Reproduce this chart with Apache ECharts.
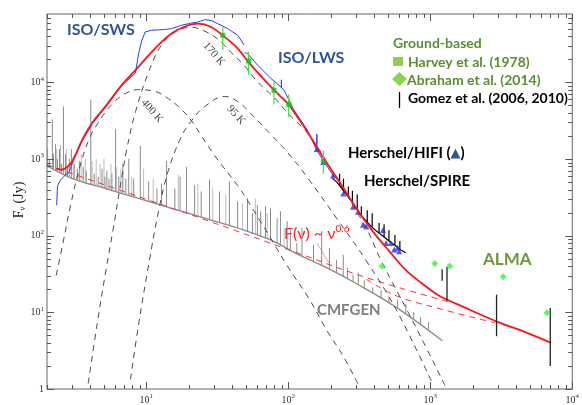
<!DOCTYPE html>
<html>
<head>
<meta charset="utf-8">
<script src="https://cdn.jsdelivr.net/npm/echarts@6/dist/echarts.min.js"></script>
<style>
html, body { margin: 0; padding: 0; background: #fff; }
#chart { width: 582px; height: 405px; }
</style>
</head>
<body>
<div id="chart"></div>
<script>
// wavelength (micron) / flux density (Jy)
var xLabelTicks = [10, 100, 1000, 10000];
var yLabelTicks = [1, 10, 100, 1000, 10000];

var modelTotal = [[2.32,748],[2.53,726],[2.79,793],[3.03,950],[3.56,1820],[4.18,2990],[5.18,4900],
  [6.76,9340],[8.84,16070],[11.55,27800],[15.07,43400],[19.7,55600],[23.1,58400],[28.6,52800],
  [35.6,39200],[44.0,27800],[54.5,16900],[75.0,8880],[86.3,6840],[100.7,5150],[115,3610],
  [135,2345],[177.7,1021],[230,500],[301,228],[394,114],[514,62.9],[673,35.5],[879,23.6],
  [1148,16.6],[1762,11.5],[3006,7.47],[4613,5.55],[7080,4.0]];

var isoSws = [[2.34,250],[2.37,440],[2.45,510],[2.62,590],[2.87,684],[3.05,940],[3.56,1750],
  [4.18,2900],[5.18,4800],[6.76,9200],[8.38,13200],[8.84,23900],[9.31,35500],[9.84,45500],
  [10.9,47900],[13.5,48900],[15.07,50300],[17.7,55600],[20.8,59500],[23.1,61200],[25.8,65800],
  [28.6,64400],[31.9,58400],[37.5,50300],[44.0,41200],[49.0,30700]];

var isoLws = [[49.5,24500],[51.6,23900],[60.6,16900],[75.0,11400],[89.5,8600],[89.5,10800],
  [89.5,8500],[93.1,8050],[109,4440],[135,2450],[159,1300],[159,2115],[159,1280],[176.6,957],[207,612]];

var spire = [[205,560],[219,503],[230,451],[230,644],[230,451],[245,385],[245,555],[245,385],
  [265,320],[265,438],[265,320],[283,272],[283,385],[283,272],[306,218],[306,345],[306,218],
  [327,182],[327,242],[327,182],[360,150],[360,214],[360,150],[390,128],[390,196],[390,128],
  [436,108],[436,146],[436,108],[473,96],[473,141],[473,96],[512,85.5],[512,118],[512,85.5],
  [564,75.2],[564,102],[564,75.2],[611,66],[611,85.5],[611,66],[673,59.8]];

var hifi = [[159,1355],[176.6,912],[207,612],[244,356],[286,239],[310,206],[336,139],[354,132],
  [465,119],[488,80.5],[528,80.5],[557,66],[589,69.4],[604,62.9]];

var harvey = [[34.6,41200],[52.5,19050],[79.3,7880],[100.7,5150],[176.6,920]];
var harveyErr = [[34.6,26400,52800],[52.5,12570,25100],[79.3,5150,10300],[100.7,3470,6940],[176.6,644,1288]];

var abraham = [[458,40.3],[1077,43.5],[1370,40.3],[3260,29.1],[6640,9.85]];
var gomez = [[1213,25.8,36.4],[1312,14.2,39.1],[2930,4.89,17.0],[7000,2.0,11.4]];

var cmfgenCont = [[1.98,825],[3.03,555],[5.18,412],[8.84,306],[15.07,228],[25.8,169],[44.0,126],
  [75.0,88],[115,58],[186,38.3],[301,23.8],[573,11.7],[1219,4.25]];

// [wavelength, continuum, line peak]
var cmfgenLines = [[2.02,810,1355],[2.08,800,1006],[2.18,748,3300],[2.22,740,1167],[2.30,720,1572],
  [2.37,700,1006],[2.45,680,1355],[2.53,660,867],[2.61,630,4855],[2.70,620,1167],[2.79,600,790],
  [2.87,590,1006],[2.97,570,1355],[3.11,545,867],[3.27,530,748],[3.38,523,940],[3.60,510,790],
  [3.78,495,705],[4.07,470,5980],[4.30,455,644],[4.58,445,589],[4.88,420,748],[5.12,412,589],
  [5.28,405,705],[5.46,400,555],[5.73,388,644],[6.08,377,2455],[6.41,365,589],[6.84,356,867],
  [7.18,345,555],[7.53,335,1006],[8.16,318,555],[9.08,300,1480],[10.4,280,510],[11.9,260,412],
  [12.8,248,479],[13.9,237,940],[15.9,220,412],[17.3,212,589],[19.2,200,790],[21.9,185,455],
  [24.4,173,377],[27.9,162,540],[32.8,148,377],[38.5,135,510],[44.0,126,280],[51.6,115,306],
  [56,107,196],[60.6,101,250],[64.0,98,208],[69.2,92,242],[75.0,88,228],[83.5,78,169],[88.1,74,208],
  [98.2,66,155],[103.5,63,118],[115,58,80],[125,54,126],[150.6,45.6,76],[172,40.5,115],
  [195,36.6,69.4],[219,33,48.5],[244,29.3,56.4],[261,27.2,38.3],[286,25,31],[311,22.7,33],
  [343,20.4,26],[394,17.6,21.2],[451,15.3,19.4],[512,13.1,15.7],[589,11.4,14.7],[673,9.8,12.8],
  [765,8.2,10.1],[855,7.0,8.67],[973,6.0,7.47]];

var cmfgenFaint = [[2.34,705,1355],[2.49,670,1530],[2.74,610,1355],[3.06,555,1085],[3.48,515,1167],
  [3.72,500,1006],[4.16,465,940],[4.44,450,1006],[4.73,430,867],[5.04,418,1006],[5.64,395,867],
  [6.19,370,790],[6.62,360,748],[7.91,330,589],[9.58,296,748],[11.2,268,555],[16.8,214,620],
  [23.1,180,479],[29.4,157,412],[36.3,140,345],[47.6,120,264],[58.7,104,306],[71.2,90,196],[93.5,73,126]];

var freeFree = [[1.98,840],[23.1,174],[115,60],[355,28.4],[1387,13.5]];
var freeFree2 = [[355,27],[573,16.5],[1200,11],[2850,7.3]];

var bb400 = [[2.32,30.2],[2.61,85.5],[2.95,264],[3.38,748],[3.96,1823],[4.66,3110],[5.64,5000],
  [6.95,6940],[8.84,8050],[11.6,7590],[13.6,6540],[16.8,4855],[20.7,3205],[24.3,2050],[30.4,1100],
  [44.0,451],[51.6,289],[75.0,93.4],[98.2,40.6],[142,14.4],[186,5.9],[245,2.64],[311,1.15]];

var bb170 = [[3.90,1.18],[4.51,7.04],[5.21,36.1],[5.83,118],[6.52,412],[7.30,1355],[8.42,4190],
  [10.4,13700],[12.8,30600],[16.3,46400],[20.7,52300],[25.9,46400],[31.9,36600],[39.3,24900],
  [49.2,16400],[60.6,10200],[79.6,6350],[98.2,4060],[142,1990],[219,555],[354,126],[451,47.2],
  [791,6.44],[1280,1.08]];

var bb95 = [[7.74,1.33],[8.84,7.04],[10.4,41.9],[12.2,208],[14.3,705],[17.6,1933],[20.7,3110],
  [25.9,4855],[35.7,6540],[44.0,5640],[57.8,3505],[75.0,2115],[98.2,1239],[135,589],[219,169],
  [354,47.2],[573,11],[1038,1.18]];

var SERIF = '"Liberation Serif", "DejaVu Serif", serif';
var SANS = 'Lato, "Open Sans", "DejaVu Sans", sans-serif';

function decadeTicks(lo, hi) {
  var out = [];
  for (var e = 0; e <= 4; e++) {
    for (var m = 1; m <= 9; m++) {
      var v = m * Math.pow(10, e);
      if (v >= lo * 0.999 && v <= hi * 1.001) out.push([v, m === 1 ? 1 : 0]);
    }
  }
  return out;
}

var tickData = [];
decadeTicks(2, 10000).forEach(function (t) { tickData.push([t[0], 1, 0, t[1]]); });
decadeTicks(1, 78000).forEach(function (t) { tickData.push([2, t[0], 1, t[1]]); });

function powLabel(v) {
  var e = Math.log(v) / Math.LN10;
  var r = Math.round(e);
  if (Math.abs(e - r) > 1e-6) return '';
  if (r === 0) return '{b|1}';
  return '{b|10}{s|' + r + '}';
}

var labelRich = {
  b: { fontFamily: SERIF, fontSize: 10, color: '#333' },
  s: { fontFamily: SERIF, fontSize: 7, color: '#333', padding: [0, 0, 7, 0] }
};

function segItem(color, width) {
  return function (params, api) {
    var p1 = api.coord([api.value(0), api.value(1)]);
    var p2 = api.coord([api.value(0), api.value(2)]);
    return { type: 'line', shape: { x1: p1[0], y1: p1[1], x2: p2[0], y2: p2[1] },
      style: { stroke: color, lineWidth: width } };
  };
}

function tickItem(params, api) {
  var cs = params.coordSys;
  var major = api.value(3);
  var len = major ? 7 : 4;
  var st = { stroke: '#555', lineWidth: 1 };
  var p = api.coord([api.value(0), api.value(1)]);
  if (api.value(2) === 0) {
    var x = Math.round(p[0]) + 0.5, b = cs.y + cs.height, t = cs.y;
    return { type: 'group', children: [
      { type: 'line', shape: { x1: x, y1: b, x2: x, y2: b - len }, style: st },
      { type: 'line', shape: { x1: x, y1: t, x2: x, y2: t + len }, style: st } ] };
  }
  var y = Math.round(p[1]) + 0.5, l = cs.x, r = cs.x + cs.width;
  return { type: 'group', children: [
    { type: 'line', shape: { x1: l, y1: y, x2: l + len, y2: y }, style: st },
    { type: 'line', shape: { x1: r, y1: y, x2: r - len, y2: y }, style: st } ] };
}

function dashed(data, color, z) {
  return { type: 'line', data: data, smooth: 0.4, symbol: 'none', z: z || 3,
    lineStyle: { color: color, width: 1, type: [6, 5] } };
}

var option = {
  animation: false,
  backgroundColor: '#fff',
  grid: { left: 47, right: 6, top: 14, bottom: 12, show: true, borderColor: '#666', borderWidth: 1 },
  xAxis: {
    type: 'log', logBase: 10, min: 2, max: 10000,
    axisLine: { show: false }, axisTick: { show: false }, splitLine: { show: false },
    axisLabel: { margin: 4, formatter: powLabel, rich: labelRich }
  },
  yAxis: {
    type: 'log', logBase: 10, min: 1, max: 78000,
    axisLine: { show: false }, axisTick: { show: false }, splitLine: { show: false },
    axisLabel: { margin: 3, formatter: powLabel, rich: labelRich }
  },
  series: [
    { type: 'custom', data: cmfgenFaint, renderItem: segItem('#bdbdbd', 1), encode: { x: 0, y: [1, 2] }, z: 1 },
    { type: 'custom', data: cmfgenLines, renderItem: segItem('#8a8a8a', 1), encode: { x: 0, y: [1, 2] }, z: 1 },
    { type: 'line', data: cmfgenCont, smooth: 0.4, symbol: 'none', z: 2,
      lineStyle: { color: '#8a8a8a', width: 1.3 } },
    dashed(freeFree, '#ff3030', 3),
    dashed(freeFree2, '#ff3030', 3),
    dashed(bb400, '#4a4a4a'),
    dashed(bb170, '#4a4a4a'),
    dashed(bb95, '#4a4a4a'),
    { type: 'line', data: isoSws, symbol: 'none', z: 4, lineStyle: { color: '#2a3cff', width: 1 } },
    { type: 'line', data: isoLws, symbol: 'none', z: 4, lineStyle: { color: '#2a3cff', width: 1 } },
    { type: 'line', data: spire, symbol: 'none', z: 4, lineStyle: { color: '#000', width: 1.2 } },
    { type: 'scatter', data: hifi, symbol: 'triangle', symbolSize: 6, z: 5, itemStyle: { color: '#1e2fff' } },
    { type: 'line', data: modelTotal, smooth: 0.35, symbol: 'none', z: 6,
      lineStyle: { color: '#ff1414', width: 1.8 } },
    { type: 'custom', data: harveyErr, renderItem: segItem('#44e044', 1.2), encode: { x: 0, y: [1, 2] }, z: 7 },
    { type: 'scatter', data: harvey, symbol: 'rect', symbolSize: 5, z: 8, itemStyle: { color: '#19b819' } },
    { type: 'custom', data: gomez, renderItem: segItem('#222', 1.3), encode: { x: 0, y: [1, 2] }, z: 7 },
    { type: 'scatter', data: abraham, symbol: 'diamond', symbolSize: 7, z: 8, itemStyle: { color: '#3cf03c' } },
    { type: 'custom', data: tickData, renderItem: tickItem, encode: { x: 0, y: 1 }, clip: false, z: 10, silent: true }
  ],
  graphic: [
    { type: 'text', x: 19, y: 200, rotation: Math.PI / 2, style: {
      text: '{a|F}{sub|ν}{a| (Jy)}', align: 'center', verticalAlign: 'middle', rich: {
        a: { fill: '#222', fontFamily: SERIF, fontSize: 14 },
        sub: { fill: '#222', fontFamily: SERIF, fontSize: 8, padding: [7, 0, 0, 0] } } } },
    { type: 'text', x: 67, y: 22, style: { text: 'ISO/SWS', fill: '#2f5597', font: 'bold 16px ' + SANS } },
    { type: 'text', x: 278, y: 50, style: { text: 'ISO/LWS', fill: '#2f5597', font: 'bold 16px ' + SANS } },
    { type: 'text', x: 393, y: 36, style: { text: 'Ground-based', fill: '#5b8d33', font: 'bold 14px ' + SANS } },
    { type: 'rect', shape: { x: 393, y: 57, width: 10, height: 9 }, style: { fill: '#8fd14f' } },
    { type: 'text', x: 408, y: 55, style: { text: 'Harvey et al. (1978)', fill: '#5b8d33', font: 'bold 14px ' + SANS } },
    { type: 'polygon', shape: { points: [[392, 79], [399.5, 72], [407, 79], [399.5, 86]] }, style: { fill: '#8fd14f' } },
    { type: 'text', x: 407, y: 73, style: { text: 'Abraham et al. (2014)', fill: '#5b8d33', font: 'bold 14px ' + SANS } },
    { type: 'line', shape: { x1: 399.5, y1: 92, x2: 399.5, y2: 108 }, style: { stroke: '#000', lineWidth: 1.3 } },
    { type: 'text', x: 408, y: 91, style: { text: 'Gomez et al. (2006, 2010)', fill: '#000', font: 'bold 14px ' + SANS } },
    { type: 'text', x: 348, y: 146, style: { text: '{t|Herschel/HIFI (}{g|▲}{t|)}', rich: {
      t: { fill: '#000', fontFamily: SANS, fontWeight: 'bold', fontSize: 15 },
      g: { fill: '#2f5597', fontFamily: '"DejaVu Sans"', fontSize: 13 } } } },
    { type: 'text', x: 364, y: 174, style: { text: 'Herschel/SPIRE', fill: '#000', font: 'bold 15px ' + SANS } },
    { type: 'text', x: 284, y: 224, style: { text: '{r|F(ν) ~ ν}{s|0.6}', rich: {
      r: { fill: '#ff1a1a', fontFamily: SANS, fontSize: 16 },
      s: { fill: '#ff1a1a', fontFamily: SANS, fontSize: 10, padding: [0, 0, 9, 0] } } } },
    { type: 'line', shape: { x1: 317, y1: 243, x2: 329, y2: 263 }, style: { stroke: '#f08080', lineWidth: 0.8 } },
    { type: 'text', x: 483, y: 251, style: { text: 'ALMA', fill: '#6b9a3b', font: 'bold 17px ' + SANS } },
    { type: 'text', x: 317, y: 303, style: { text: 'CMFGEN', fill: '#7f7f7f', font: 'bold 15px ' + SANS } },
    { type: 'text', x: 152, y: 111, rotation: -0.85, style: { text: '400 K', fill: '#444', font: '11px ' + SERIF, align: 'center', verticalAlign: 'middle' } },
    { type: 'text', x: 214, y: 54, rotation: -0.85, style: { text: '170 K', fill: '#444', font: '11px ' + SERIF, align: 'center', verticalAlign: 'middle' } },
    { type: 'text', x: 236, y: 115, rotation: -0.85, style: { text: '95 K', fill: '#444', font: '11px ' + SERIF, align: 'center', verticalAlign: 'middle' } }
  ]
};

var chart = echarts.init(document.getElementById('chart'));
chart.setOption(option);
</script>
</body>
</html>
